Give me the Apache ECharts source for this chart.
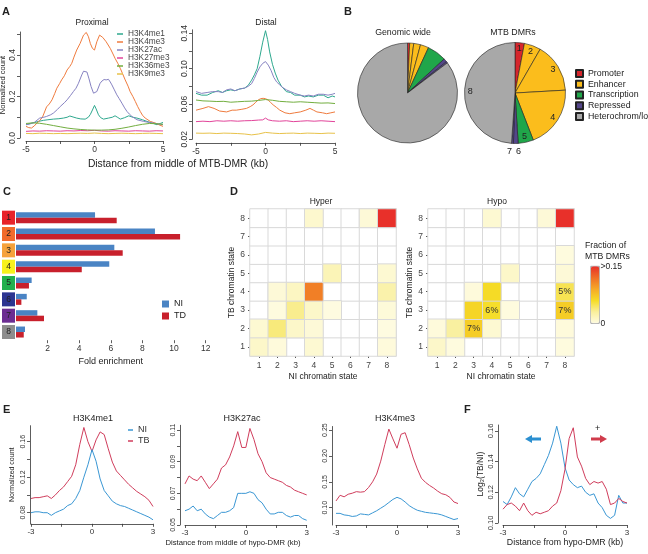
<!DOCTYPE html>
<html><head><meta charset="utf-8">
<script src="https://cdn.jsdelivr.net/npm/echarts@6.0.0/dist/echarts.min.js"></script>
<style>html,body{margin:0;padding:0;background:#fff;}#chart{width:648px;height:554px;}</style>
</head><body><div id="chart"></div>
<script>
// ---------------- DATA ----------------
const markNames = ['H3K4me1','H3K4me3','H3K27ac','H3K27me3','H3K36me3','H3K9me3'];

// Panel A, proximal ([distance kb, normalized count])
const proxH3K4me1 = [[-5,.064],[-4.7,.07],[-4.4,.074],[-4.1,.08],[-3.73,.085],[-3.4,.088],[-3,.091],[-2.6,.093],[-2.27,.096],[-2,.1],[-1.8,.106],[-1.5,.1],[-1.3,.096],[-1,.092],[-0.68,.091],[-0.45,.1],[-0.3,.114],[-0.15,.135],[0,.157],[0.12,.14],[0.29,.112],[0.45,.098],[0.66,.091],[1.02,.096],[1.3,.1],[1.5,.107],[1.7,.099],[1.88,.091],[2.2,.098],[2.5,.107],[2.8,.1],[3.1,.096],[3.5,.088],[3.83,.08],[4.2,.072],[4.56,.064],[4.8,.07],[5,.075]];
const proxH3K4me3 = [[-5,.056],[-4.8,.05],[-4.6,.048],[-4.4,.058],[-4.2,.072],[-4,.084],[-3.8,.1],[-3.5,.15],[-3.3,.164],[-3.1,.184],[-2.9,.215],[-2.75,.24],[-2.55,.262],[-2.4,.28],[-2.2,.3],[-2,.328],[-1.8,.345],[-1.66,.36],[-1.5,.39],[-1.3,.424],[-1.05,.456],[-0.8,.496],[-0.6,.509],[-0.44,.488],[-0.3,.455],[-0.15,.432],[0,.424],[0.17,.464],[0.37,.496],[0.6,.485],[0.85,.464],[1.15,.432],[1.35,.405],[1.5,.384],[1.7,.36],[1.88,.336],[2.05,.31],[2.24,.28],[2.45,.25],[2.6,.224],[2.8,.2],[2.98,.176],[3.15,.152],[3.34,.128],[3.5,.11],[3.7,.096],[4.07,.08],[4.44,.072],[4.7,.064],[5,.056]];
const proxH3K27ac = [[-5,.064],[-4.7,.068],[-4.4,.075],[-4,.096],[-3.7,.1],[-3.5,.104],[-3.2,.112],[-3,.12],[-2.7,.138],[-2.5,.152],[-2.2,.17],[-2,.184],[-1.75,.205],[-1.54,.224],[-1.35,.24],[-1.17,.264],[-0.93,.304],[-0.8,.322],[-0.68,.33],[-0.55,.318],[-0.4,.285],[-0.25,.248],[-0.07,.216],[0.17,.224],[0.41,.264],[0.55,.275],[0.7,.282],[0.85,.28],[1.02,.283],[1.15,.27],[1.27,.256],[1.45,.232],[1.63,.208],[1.8,.19],[2,.168],[2.2,.145],[2.37,.128],[2.55,.115],[2.73,.104],[3.1,.088],[3.58,.08],[4.07,.074],[4.5,.07],[4.8,.066],[5,.064]];
const proxH3K27me3 = [[-5,.032],[-4.5,.034],[-4,.033],[-3.5,.035],[-3,.034],[-2.5,.033],[-2,.035],[-1.5,.034],[-1,.036],[-0.5,.035],[0,.037],[0.5,.034],[1,.033],[1.5,.035],[2,.034],[2.5,.033],[3,.035],[3.5,.034],[4,.033],[4.5,.035],[5,.034]];
const proxH3K36me3 = [[-5,.07],[-4.5,.073],[-4,.071],[-3.5,.066],[-3,.06],[-2.5,.054],[-2,.048],[-1.5,.044],[-1,.041],[-0.5,.039],[0,.038],[0.5,.038],[1,.039],[1.5,.042],[2,.047],[2.5,.053],[3,.06],[3.5,.066],[4,.07],[4.5,.069],[5,.066]];
const proxH3K9me3 = [[-5,.022],[-4.5,.021],[-4,.023],[-3.5,.022],[-3,.021],[-2.5,.022],[-2,.021],[-1.5,.022],[-1,.023],[-0.5,.022],[0,.024],[0.5,.022],[1,.021],[1.5,.022],[2,.023],[2.5,.022],[3,.021],[3.5,.022],[4,.023],[4.5,.022],[5,.021]];

// Panel A, distal
const distH3K4me1 = [[-5,.072],[-4.6,.07],[-4.2,.07],[-3.8,.073],[-3.4,.075],[-3.1,.073],[-2.8,.075],[-2.5,.076],[-2.2,.075],[-1.85,.077],[-1.5,.078],[-1.25,.081],[-1,.087],[-0.8,.093],[-0.6,.1],[-0.4,.114],[-0.2,.13],[0,.143],[0.15,.133],[0.3,.119],[0.5,.105],[0.7,.095],[0.9,.087],[1.15,.08],[1.5,.074],[1.8,.073],[2.1,.07],[2.5,.07],[2.8,.068],[3.1,.069],[3.44,.068],[3.8,.07],[4.16,.07],[4.5,.067],[4.8,.069],[5,.068]];
const distH3K4me3 = [[-5,.053],[-4.5,.055],[-4.1,.057],[-3.7,.055],[-3.3,.052],[-2.8,.051],[-2.4,.053],[-2.1,.053],[-1.7,.054],[-1.37,.055],[-1.1,.057],[-0.9,.059],[-0.7,.062],[-0.53,.0645],[-0.35,.066],[-0.17,.0664],[0,.066],[0.19,.0645],[0.35,.062],[0.55,.059],[0.8,.056],[1.03,.053],[1.4,.05],[1.75,.049],[2.1,.05],[2.5,.051],[2.9,.053],[3.2,.055],[3.45,.053],[3.7,.051],[4.1,.05],[4.4,.049],[4.7,.05],[5,.051]];
const distH3K27ac = [[-5,.074],[-4.6,.072],[-4.2,.073],[-3.8,.074],[-3.4,.074],[-3.1,.073],[-2.8,.076],[-2.5,.077],[-2.2,.075],[-1.85,.077],[-1.5,.078],[-1.25,.08],[-1,.083],[-0.8,.089],[-0.6,.096],[-0.4,.102],[-0.2,.106],[0,.108],[0.2,.104],[0.4,.098],[0.6,.09],[0.8,.085],[1,.082],[1.2,.079],[1.5,.076],[1.8,.074],[2.1,.072],[2.5,.07],[2.8,.069],[3.1,.07],[3.44,.069],[3.8,.071],[4.16,.071],[4.5,.07],[4.8,.071],[5,.072]];
const distH3K27me3 = [[-5,.04],[-4.5,.0405],[-4,.04],[-3.5,.041],[-3,.0405],[-2.5,.041],[-2,.0405],[-1.5,.041],[-1,.0412],[-0.5,.0418],[-0.2,.042],[0,.044],[0.2,.042],[0.5,.041],[1,.0405],[1.5,.041],[2,.04],[2.5,.0405],[3,.041],[3.5,.0405],[4,.041],[4.5,.0405],[5,.04]];
const distH3K36me3 = [[-5,.0645],[-4.5,.0635],[-4,.0632],[-3.5,.0628],[-3,.063],[-2.5,.062],[-2,.0625],[-1.5,.063],[-1,.0632],[-0.5,.064],[0,.065],[0.5,.0642],[1,.063],[1.5,.0625],[2,.062],[2.5,.0625],[3,.062],[3.5,.0615],[4,.061],[4.5,.0612],[5,.0605]];
const distH3K9me3 = [[-5,.027],[-4.5,.0268],[-4,.027],[-3.5,.0265],[-3,.027],[-2.5,.0268],[-2,.0265],[-1.5,.026],[-1,.025],[-0.5,.026],[0,.0278],[0.5,.027],[1,.0265],[1.5,.0268],[2,.027],[2.5,.0265],[3,.027],[3.5,.0268],[4,.0265],[4.5,.027],[5,.0268]];

// Panel B (percent of genome / of MTB DMRs in chromatin states 1..8)
const states = ['1','2','3','4','5','6','7','8'];
const stateGroup = ['Promoter','Enhancer','Enhancer','Enhancer','Transcription','Repressed','Repressed','Heterochrom/lo'];
const groupNames = ['Promoter','Enhancer','Transcription','Repressed','Heterochrom/lo'];
const pieGenomeWide = [0.7,1.3,2.2,2.7,6.2,1.1,0.5,85.3];
const pieMtbDmr = [3.0,5.3,15.8,20.0,4.9,1.5,0.6,48.9];

// Panel C (fold enrichment per state)
const foldNI = [5.0,8.79,6.22,5.9,0.99,0.68,1.35,0.57];
const foldTD = [6.37,10.38,6.75,4.16,0.82,0.34,1.77,0.49];
const cTicks = [2,4,6,8,10,12];

// Panel D (rows = TB state 1..8, columns = NI state 1..8, fraction of MTB DMRs)
const hyperMatrix = [
  [.012,.004,0,.008,0,0,0,.004],
  [.008,.04,.012,.006,0,0,0,.002],
  [0,.003,.035,.012,.002,0,0,.005],
  [0,.006,.015,.112,0,0,0,.025],
  [0,0,0,0,.02,0,0,.008],
  [0,0,0,0,0,0,0,0],
  [0,0,0,0,0,0,0,0],
  [0,0,0,.01,0,0,.006,.15]
];
const hypoMatrix = [
  [.012,.003,0,0,0,0,0,.003],
  [.004,.03,.07,.008,0,0,0,.004],
  [0,0,.065,.06,.003,0,0,.07],
  [0,0,.004,.062,0,0,0,.05],
  [0,0,0,0,.012,0,0,.006],
  [0,0,0,0,0,0,0,.003],
  [0,0,0,0,0,0,0,0],
  [0,0,0,.008,0,0,.006,.15]
];
const hypoLabeledCells = [[3,2],[4,3],[8,3],[8,4]]; // [NI state, TB state]

// Panel E / F (distance kb)
const eX = [-3,-2.8,-2.6,-2.4,-2.2,-2,-1.8,-1.6,-1.4,-1.2,-1,-0.8,-0.6,-0.4,-0.2,0,0.2,0.4,0.6,0.8,1,1.2,1.4,1.6,1.8,2,2.2,2.4,2.6,2.8,3];
const eH3K4me1TB = [0.096,0.097,0.097,0.098,0.099,0.096,0.100,0.105,0.109,0.115,0.121,0.134,0.157,0.176,0.160,0.149,0.162,0.171,0.168,0.152,0.137,0.127,0.122,0.117,0.112,0.108,0.104,0.101,0.098,0.094,0.087];
const eH3K4me1NI = [0.080,0.081,0.081,0.080,0.080,0.077,0.080,0.082,0.084,0.088,0.090,0.096,0.105,0.120,0.134,0.151,0.138,0.118,0.105,0.099,0.093,0.090,0.088,0.087,0.085,0.083,0.081,0.079,0.077,0.075,0.072];
const eH3K27acTB = [0.076,0.081,0.079,0.078,0.081,0.077,0.073,0.076,0.079,0.086,0.088,0.093,0.100,0.109,0.099,0.099,0.111,0.104,0.095,0.090,0.083,0.080,0.079,0.078,0.077,0.075,0.074,0.072,0.071,0.070,0.069];
const eH3K27acNI = [0.059,0.060,0.062,0.059,0.060,0.057,0.055,0.054,0.056,0.058,0.058,0.059,0.061,0.070,0.070,0.070,0.071,0.070,0.066,0.064,0.060,0.057,0.057,0.058,0.058,0.056,0.055,0.056,0.056,0.054,0.053];
const eH3K4me3TB = [0.113,0.124,0.121,0.126,0.128,0.131,0.130,0.131,0.139,0.150,0.165,0.190,0.222,0.252,0.233,0.215,0.242,0.245,0.222,0.196,0.175,0.157,0.149,0.143,0.138,0.132,0.127,0.125,0.120,0.111,0.108];
const eH3K4me3NI = [0.089,0.089,0.086,0.085,0.083,0.084,0.088,0.087,0.086,0.090,0.094,0.099,0.104,0.110,0.116,0.120,0.117,0.111,0.104,0.099,0.095,0.093,0.091,0.090,0.089,0.088,0.086,0.083,0.080,0.077,0.079];
const fNI = [0.114,0.112,0.117,0.123,0.119,0.117,0.122,0.127,0.129,0.132,0.138,0.144,0.152,0.163,0.152,0.136,0.128,0.125,0.123,0.124,0.120,0.118,0.119,0.113,0.110,0.105,0.103,0.105,0.118,0.113,0.113];
const fTB = [0.109,0.112,0.113,0.111,0.108,0.113,0.108,0.105,0.107,0.106,0.107,0.108,0.111,0.113,0.121,0.135,0.155,0.162,0.143,0.137,0.129,0.125,0.127,0.126,0.127,0.122,0.112,0.113,0.116,0.114,0.113];

// ---------------- STYLE ----------------
const FONT = '"Liberation Sans", Arial, Helvetica, sans-serif';
const INK = '#333';
const markColors = {H3K4me1:'#2ea88e', H3K4me3:'#ef7b3e', H3K27ac:'#8783c2', H3K27me3:'#e2449a', H3K36me3:'#72ae3f', H3K9me3:'#e8c24a'};
const groupColors = {'Promoter':'#d6262c','Enhancer':'#fbbd1c','Transcription':'#20a64a','Repressed':'#54468a','Heterochrom/lo':'#a8a8a8'};
const stateBoxColors = ['#e8232a','#f26b2c','#f6a23b','#f8f21c','#22b04d','#2c3591','#6b2d92','#8d8d8d'];
const BLUE = '#3a97d4', RED = '#d03d5c';

function lineSeries(name, data, color, idx) {
  return {type:'line', name, data, xAxisIndex:idx, yAxisIndex:idx, showSymbol:false, symbol:'none',
    lineStyle:{color, width:1}, itemStyle:{color}, silent:true, animation:false, z:3};
}
function fmt(d){ return v => Number(v).toFixed(d); }
function xVal(grid, min, max, ticks, labels, offset, fs, extra) {
  return Object.assign({type:'value', gridIndex:grid, min, max, offset:offset||0, splitLine:{show:false},
    axisLine:{show:true, onZero:false, lineStyle:{color:INK, width:0.8}},
    axisTick:{show:true, length:3, customValues:ticks, lineStyle:{color:INK, width:0.8}},
    axisLabel:{customValues:labels, color:INK, fontSize:fs, fontFamily:FONT, margin:4}}, extra||{});
}
function yVal(grid, min, max, ticks, labels, dec, offset, fs, extra) {
  return Object.assign({type:'value', gridIndex:grid, min, max, offset:offset||0, splitLine:{show:false},
    axisLine:{show:true, onZero:false, lineStyle:{color:INK, width:0.8}},
    axisTick:{show:true, length:3, customValues:ticks, lineStyle:{color:INK, width:0.8}},
    axisLabel:{customValues:labels, formatter:fmt(dec), rotate:90, color:INK, fontSize:fs, fontFamily:FONT, margin:3}}, extra||{});
}
function catAxis(grid, extra) {
  return Object.assign({type:'category', gridIndex:grid, data:states, splitLine:{show:false},
    axisLine:{show:false}, axisTick:{show:true, length:2, alignWithLabel:true, lineStyle:{color:'#555'}},
    axisLabel:{color:'#444', fontSize:8.5, fontFamily:FONT, margin:5}}, extra||{});
}
const nameStyle = fs => ({color:'#222', fontSize:fs, fontFamily:FONT});

const grids = [
  {left:26, top:32, width:137, height:106},     // 0 A proximal
  {left:196, top:29.8, width:139, height:109.5},// 1 A distal
  {left:16, top:209.5, width:189.7, height:130.7}, // 2 C
  {left:250, top:209, width:146, height:147},   // 3 D hyper
  {left:428, top:209, width:146, height:147},   // 4 D hypo
  {left:31, top:425.7, width:122, height:98.1}, // 5 E H3K4me1
  {left:185, top:425.3, width:121.7, height:99.7}, // 6 E H3K27ac
  {left:336, top:426.5, width:122, height:98.5},// 7 E H3K4me3
  {left:503, top:425, width:124, height:98}     // 8 F
].map(g => Object.assign({containLabel:false, outerBoundsMode:'none', show:false}, g));

const ticksA = [-5,-2.5,0,2.5,5], labelsA = [-5,0,5];
const ticksE = [-3,-1.5,0,1.5,3], labelsE = [-3,0,3];

const xAxes = [
  xVal(0,-5,5,ticksA,labelsA,3,8.5),
  xVal(1,-5,5,ticksA,labelsA,3.5,8.5),
  xVal(2,0,12,cTicks,cTicks,0,8.5,{axisLine:{show:false}, name:'Fold enrichment', nameLocation:'middle', nameGap:17, nameTextStyle:nameStyle(9)}),
  catAxis(3,{name:'NI chromatin state', nameLocation:'middle', nameGap:16, nameTextStyle:nameStyle(8.5)}),
  catAxis(4,{name:'NI chromatin state', nameLocation:'middle', nameGap:16, nameTextStyle:nameStyle(8.5)}),
  xVal(5,-3,3,ticksE,labelsE,0,8),
  xVal(6,-3,3,ticksE,labelsE,0,8),
  xVal(7,-3,3,ticksE,labelsE,0,8),
  xVal(8,-3,3,ticksE,labelsE,2,8,{name:'Distance from hypo-DMR (kb)', nameLocation:'middle', nameGap:12, nameTextStyle:nameStyle(8.8)})
];
const yAxes = [
  yVal(0,0,0.511,[0,0.1,0.2,0.3,0.4,0.5],[0,0.2,0.4],1,6,8.5,{name:'Normalized count', nameLocation:'middle', nameGap:11, nameTextStyle:nameStyle(7.5)}),
  yVal(1,0.02,0.144,[0.02,0.04,0.06,0.08,0.1,0.12,0.14],[0.02,0.06,0.10,0.14],2,4,8.5),
  {type:'category', gridIndex:2, data:states, inverse:true, axisLine:{show:false}, axisTick:{show:false}, splitLine:{show:false},
    axisLabel:{margin:1, formatter:(v,i)=>'{s'+i+'|'+v+'}',
      rich:Object.fromEntries(stateBoxColors.map((c,i)=>['s'+i,{backgroundColor:c, width:13, height:14, lineHeight:14, align:'center', color:'#222', fontSize:8.5, fontFamily:FONT}]))}},
  catAxis(3,{name:'TB chromatin state', nameLocation:'middle', nameGap:14, nameTextStyle:nameStyle(8.5)}),
  catAxis(4,{name:'TB chromatin state', nameLocation:'middle', nameGap:14, nameTextStyle:nameStyle(8.5)}),
  yVal(5,0.0675,0.178,[0.08,0.1,0.12,0.14,0.16],[0.08,0.12,0.16],2,1,7,{name:'Normalized count', nameLocation:'middle', nameGap:14, nameTextStyle:nameStyle(7)}),
  yVal(6,0.05,0.113,[0.05,0.06,0.07,0.08,0.09,0.1,0.11],[0.05,0.07,0.09,0.11],2,5,7),
  yVal(7,0.0665,0.257,[0.1,0.15,0.2,0.25],[0.1,0.15,0.2,0.25],2,4,7),
  yVal(8,0.1,0.1638,[0.1,0.12,0.14,0.16],[0.1,0.12,0.14,0.16],2,5,7.5,{name:'Log\u2082(TB/NI)', nameLocation:'middle', nameGap:13, nameTextStyle:nameStyle(8.5)})
];

const series = [];
// A
const proxArrays = [proxH3K4me1, proxH3K4me3, proxH3K27ac, proxH3K27me3, proxH3K36me3, proxH3K9me3];
const distArrays = [distH3K4me1, distH3K4me3, distH3K27ac, distH3K27me3, distH3K36me3, distH3K9me3];
markNames.forEach((m,i)=>series.push(lineSeries(m, proxArrays[i], markColors[m], 0)));
markNames.forEach((m,i)=>series.push(lineSeries(m, distArrays[i], markColors[m], 1)));
// B
function pieData(vals){ return vals.map((v,i)=>({name:stateGroup[i], value:v, itemStyle:{color:groupColors[stateGroup[i]]}})); }
const pieBase = {type:'pie', startAngle:90, clockwise:true, label:{show:false}, labelLine:{show:false},
  itemStyle:{borderColor:'#222', borderWidth:0.6}, silent:true, animation:false, avoidLabelOverlap:false};
series.push(Object.assign({}, pieBase, {name:'Genomic wide', center:[407.5,93], radius:[0,50], data:pieData(pieGenomeWide)}));
series.push(Object.assign({}, pieBase, {name:'MTB DMRs', center:[515,93], radius:[0,50.5], data:pieData(pieMtbDmr)}));
series.push({type:'pie', name:'MTB DMR states', center:[515,93], radius:[33,50.5], startAngle:90, clockwise:true,
  avoidLabelOverlap:false, silent:true, animation:false, z:5,
  itemStyle:{color:'rgba(0,0,0,0)', borderWidth:0},
  label:{show:true, position:'inside', fontSize:9, color:'#222', fontFamily:FONT},
  labelLine:{show:false},
  data:pieMtbDmr.map((v,i)=>({name:stateGroup[i], value:v,
    label:(i===5||i===6)?{position:'outside', formatter:states[i], distanceToLabelLine:0}:{formatter:states[i]},
    labelLine:{show:false, length:8, length2:0}}))});
// C
series.push({type:'bar', name:'NI', xAxisIndex:2, yAxisIndex:2, data:foldNI, barWidth:5.5, barGap:'0%', itemStyle:{color:'#4a84c4'}, silent:true, animation:false});
series.push({type:'bar', name:'TD', xAxisIndex:2, yAxisIndex:2, data:foldTD, barWidth:5.5, barGap:'0%', itemStyle:{color:'#c8202c'}, silent:true, animation:false});
// D : white grid of all cells, then coloured non-zero cells (mapped by visualMap)
function gridCells(mat) {
  const out = [];
  mat.forEach((row,r)=>row.forEach((v,c)=>out.push([c,r,0])));
  return out;
}
function heatData(mat, labeled) {
  const out = [];
  mat.forEach((row,r)=>row.forEach((v,c)=>{
    if (v <= 0) return;
    const item = {value:[c,r,v]};
    if (labeled && labeled.some(p=>p[0]===c+1 && p[1]===r+1)) item.label = {show:true, formatter:Math.round(v*100)+'%'};
    out.push(item);
  }));
  return out;
}
const heatBase = {type:'heatmap', itemStyle:{borderColor:'#d9d9d9', borderWidth:1}, silent:true, animation:false,
  label:{show:false, fontSize:9, color:'#333', fontFamily:FONT}};
series.push(Object.assign({}, heatBase, {name:'Hyper grid', xAxisIndex:3, yAxisIndex:3, data:gridCells(hyperMatrix), itemStyle:{color:'#ffffff', borderColor:'#d9d9d9', borderWidth:1}}));
series.push(Object.assign({}, heatBase, {name:'Hypo grid', xAxisIndex:4, yAxisIndex:4, data:gridCells(hypoMatrix), itemStyle:{color:'#ffffff', borderColor:'#d9d9d9', borderWidth:1}}));
const hyperIdx = series.length;
series.push(Object.assign({}, heatBase, {name:'Hyper', xAxisIndex:3, yAxisIndex:3, data:heatData(hyperMatrix), z:3}));
series.push(Object.assign({}, heatBase, {name:'Hypo', xAxisIndex:4, yAxisIndex:4, data:heatData(hypoMatrix, hypoLabeledCells), z:3}));
// E
const pair = arr => eX.map((x,i)=>[x,arr[i]]);
series.push(lineSeries('TB', pair(eH3K4me1TB), RED, 5));
series.push(lineSeries('NI', pair(eH3K4me1NI), BLUE, 5));
series.push(lineSeries('TB', pair(eH3K27acTB), RED, 6));
series.push(lineSeries('NI', pair(eH3K27acNI), BLUE, 6));
series.push(lineSeries('TB', pair(eH3K4me3TB), RED, 7));
series.push(lineSeries('NI', pair(eH3K4me3NI), BLUE, 7));
// F
series.push(lineSeries('F NI', pair(fNI), BLUE, 8));
series.push(lineSeries('F TB', pair(fTB), RED, 8));

const T = (text, left, top, fs, bold, align) => ({text, left, top, padding:0, textAlign:align||'left',
  textStyle:{fontSize:fs, fontWeight:bold?'bold':'normal', color:'#222', fontFamily:FONT}});

const option = {
  backgroundColor:'#fff',
  animation:false,
  title:[
    T('A',2,6,11,true), T('Proximal',92,18,8.5,false,'center'), T('Distal',266,18,8.5,false,'center'),
    T('Distance from middle of MTB-DMR (kb)',178,159.5,10.3,false,'center'),
    T('B',344,6,11,true), T('Genomic wide',403,28,8.8,false,'center'), T('MTB DMRs',513,28,8.8,false,'center'),
    T('C',3,186,11,true),
    T('D',230,186,11,true), T('Hyper',321,197,8.5,false,'center'), T('Hypo',497,197,8.5,false,'center'),
    T('E',3,404,11,true), T('H3K4me1',93,414,9,false,'center'), T('H3K27ac',242,414,9,false,'center'), T('H3K4me3',395,414,9,false,'center'),
    T('Distance from middle of hypo-DMR (kb)',233,539,7.7,false,'center'),
    T('F',464,404,11,true)
  ],
  legend:[
    {data:markNames, left:117, top:30, orient:'vertical', icon:'rect', itemWidth:6, itemHeight:1.5, itemGap:0, padding:0, selectedMode:false,
      textStyle:{fontSize:8.3, lineHeight:6.7, color:'#444', fontFamily:FONT}},
    {data:groupNames, left:575, top:68, orient:'vertical', icon:'rect', itemWidth:7, itemHeight:7, itemGap:0, padding:0, selectedMode:false,
      textStyle:{fontSize:8.8, lineHeight:10.8, color:'#222', fontFamily:FONT}},
    {data:['NI','TD'], left:162, top:298, orient:'vertical', icon:'rect', itemWidth:7, itemHeight:7, itemGap:0, padding:0, selectedMode:false,
      textStyle:{fontSize:9, lineHeight:12, color:'#222', fontFamily:FONT}},
    {data:[{name:'NI', itemStyle:{color:BLUE}}, {name:'TB'}], left:128, top:424.5, orient:'vertical', icon:'rect', itemWidth:5, itemHeight:1.5, itemGap:0, padding:0, selectedMode:false,
      textStyle:{fontSize:9, lineHeight:11, color:'#333', fontFamily:FONT}}
  ],
  visualMap:{type:'continuous', min:0.002, max:0.15, seriesIndex:[hyperIdx, hyperIdx+1], calculable:false, show:true,
    left:590.5, top:266, itemWidth:8.5, itemHeight:57, padding:0, borderColor:'#666', borderWidth:0.6,
    inRange:{color:['#fefbe0','#f9ef9c','#f5dc26','#f5a926','#ef6f26','#e8302a']}},
  grid:grids, xAxis:xAxes, yAxis:yAxes, series,
  graphic:[
    {type:'text', x:585, y:240, style:{text:'Fraction of\nMTB DMRs', fontSize:8.7, lineHeight:11, fill:'#222', font:'8.7px '+FONT}},
    {type:'text', x:600.5, y:262, style:{text:'>0.15', fill:'#222', font:'8.5px '+FONT}},
    {type:'text', x:600.5, y:319, style:{text:'0', fill:'#222', font:'8.5px '+FONT}},
    {type:'polygon', shape:{points:[[525,439],[532,435],[532,443]]}, style:{fill:'#2b8fd0'}},
    {type:'rect', shape:{x:531, y:437.5, width:10, height:3}, style:{fill:'#2b8fd0'}},
    {type:'polygon', shape:{points:[[607,439],[600,435],[600,443]]}, style:{fill:'#d03c4c'}},
    {type:'rect', shape:{x:591, y:437.5, width:10, height:3}, style:{fill:'#d03c4c'}},
    {type:'text', x:595, y:424, style:{text:'+', fill:'#222', font:'9px '+FONT}}
  ]
};
const chart = echarts.init(document.getElementById('chart'), null, {renderer:'canvas', width:648, height:554});
chart.setOption(option);
</script></body></html>
